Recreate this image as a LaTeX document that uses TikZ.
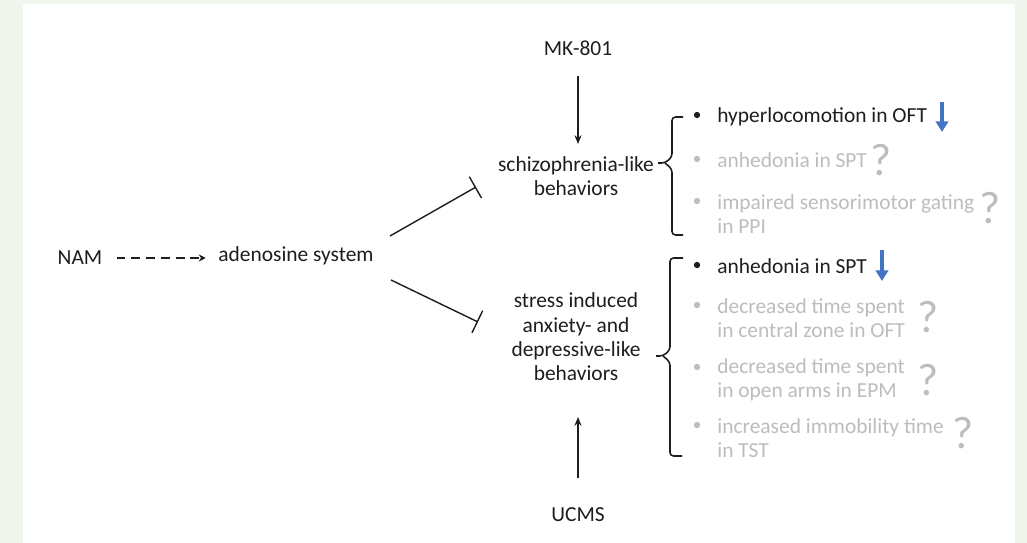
\documentclass[tikz,border=0pt]{standalone}
\usepackage{fontspec}
\setmainfont{Carlito}
\usetikzlibrary{arrows.meta}
\definecolor{bggreen}{HTML}{F0F6EE}
\definecolor{ink}{HTML}{1E1E1E}
\definecolor{faded}{HTML}{BDBDBD}
\definecolor{downblue}{HTML}{4472C4}
\begin{document}
\begin{tikzpicture}[x=0.02cm,y=-0.02cm,
  txt/.style={font=\fontsize{12.2pt}{13.8pt}\selectfont, text=ink, inner sep=0pt, align=center},
  item/.style={font=\fontsize{12.2pt}{13.8pt}\selectfont, inner sep=0pt, anchor=west, align=left},
  on/.style={item, text=ink},
  off/.style={item, text=faded},
  dot/.style={circle, fill=#1, inner sep=0pt, minimum size=3.6pt},
  qmark/.style={font=\fontsize{26pt}{26pt}\selectfont, text=faded, inner sep=0pt},
  brace/.style={draw=ink, line width=0.9pt, rounded corners=2pt},
  link/.style={draw=ink, line width=0.8pt},
  down/.style={draw=downblue, line width=2.2pt, -{Triangle[length=6pt,width=7pt]}}]
% page and panel
\fill[bggreen] (0,0) rectangle (1027,543);
\fill[white] (23,4) rectangle (1015,543);
\useasboundingbox (0,0) rectangle (1027,543);

% left chain
\node[txt] (nam) at (80,258) {NAM};
\node[txt] (ado) at (296,256) {adenosine system};
\draw[link, dash pattern=on 5pt off 3.4pt, shorten <=8pt, shorten >=7pt,
      -{Stealth[length=4pt,width=4pt]}] (nam.east) -- (nam.east -| ado.west);

% central outcome groups
\node[txt] (mk) at (578,48) {MK-801};
\node[txt] (schizo) at (576,176) {schizophrenia-like\\behaviors};
\node[txt] (stress) at (576,337) {stress induced\\anxiety- and\\depressive-like\\behaviors};
\node[txt] (ucms) at (578,515) {UCMS};

\draw[link, -{Stealth[length=5pt,width=4pt]}] (578,76) coordinate (mkb) -- (578,144) coordinate (mkt);
\draw[link, -{Stealth[length=5pt,width=4pt]}] (578,478) coordinate (ub) -- (578,417) coordinate (ut);

% inhibition from adenosine system
\draw[link, -{Bar[width=14pt]}] (390,236) coordinate (i1) -- (476,187) coordinate (i1e);
\draw[link, -{Bar[width=14pt]}] (391,280) coordinate (i2) -- (478,322) coordinate (i2e);

% braces
\draw[brace] (683,117) -- (672,117) -- (672,157) -- (665,163) -- (658,163);
\draw[brace] (665,163) -- (672,169) -- (672,235) -- (683,235);
\draw[brace] (683,258) -- (670,258) -- (670,350) -- (663,356) -- (656,356);
\draw[brace] (663,356) -- (670,362) -- (670,456) -- (682,456);

% first group items
\node[dot=ink] (b1) at (697,115) {};
\node[on] (h1) at (717,117) {hyperlocomotion in OFT};
\draw[down] (942,102) coordinate (a1s) -- (942,132) coordinate (a1e);
\node[dot=faded] (b2) at (697,159) {};
\node[off] (h2) at (717,160) {anhedonia in SPT};
\node[qmark] (q2) at (881,160) {?};
\node[dot=faded] (b3) at (697,201) {};
\node[off] (h3) at (717,214) {impaired sensorimotor gating\\in PPI};
\node[qmark] (q3) at (990,208) {?};

% second group items
\node[dot=ink] (c1) at (697,265) {};
\node[on] (k1) at (717,266) {anhedonia in SPT};
\draw[down] (882,250) coordinate (a2s) -- (882,281) coordinate (a2e);
\node[dot=faded] (c2) at (697,305) {};
\node[off] (k2) at (717,318) {decreased time spent\\in central zone in OFT};
\node[qmark] (q4) at (928,317) {?};
\node[dot=faded] (c3) at (697,367) {};
\node[off] (k3) at (717,380) {decreased time spent\\in open arms in EPM};
\node[qmark] (q5) at (928,380) {?};
\node[dot=faded] (c4) at (697,425) {};
\node[off] (k4) at (717,438) {increased immobility time\\in TST};
\node[qmark] (q6) at (963,433) {?};
\end{tikzpicture}
\end{document}
